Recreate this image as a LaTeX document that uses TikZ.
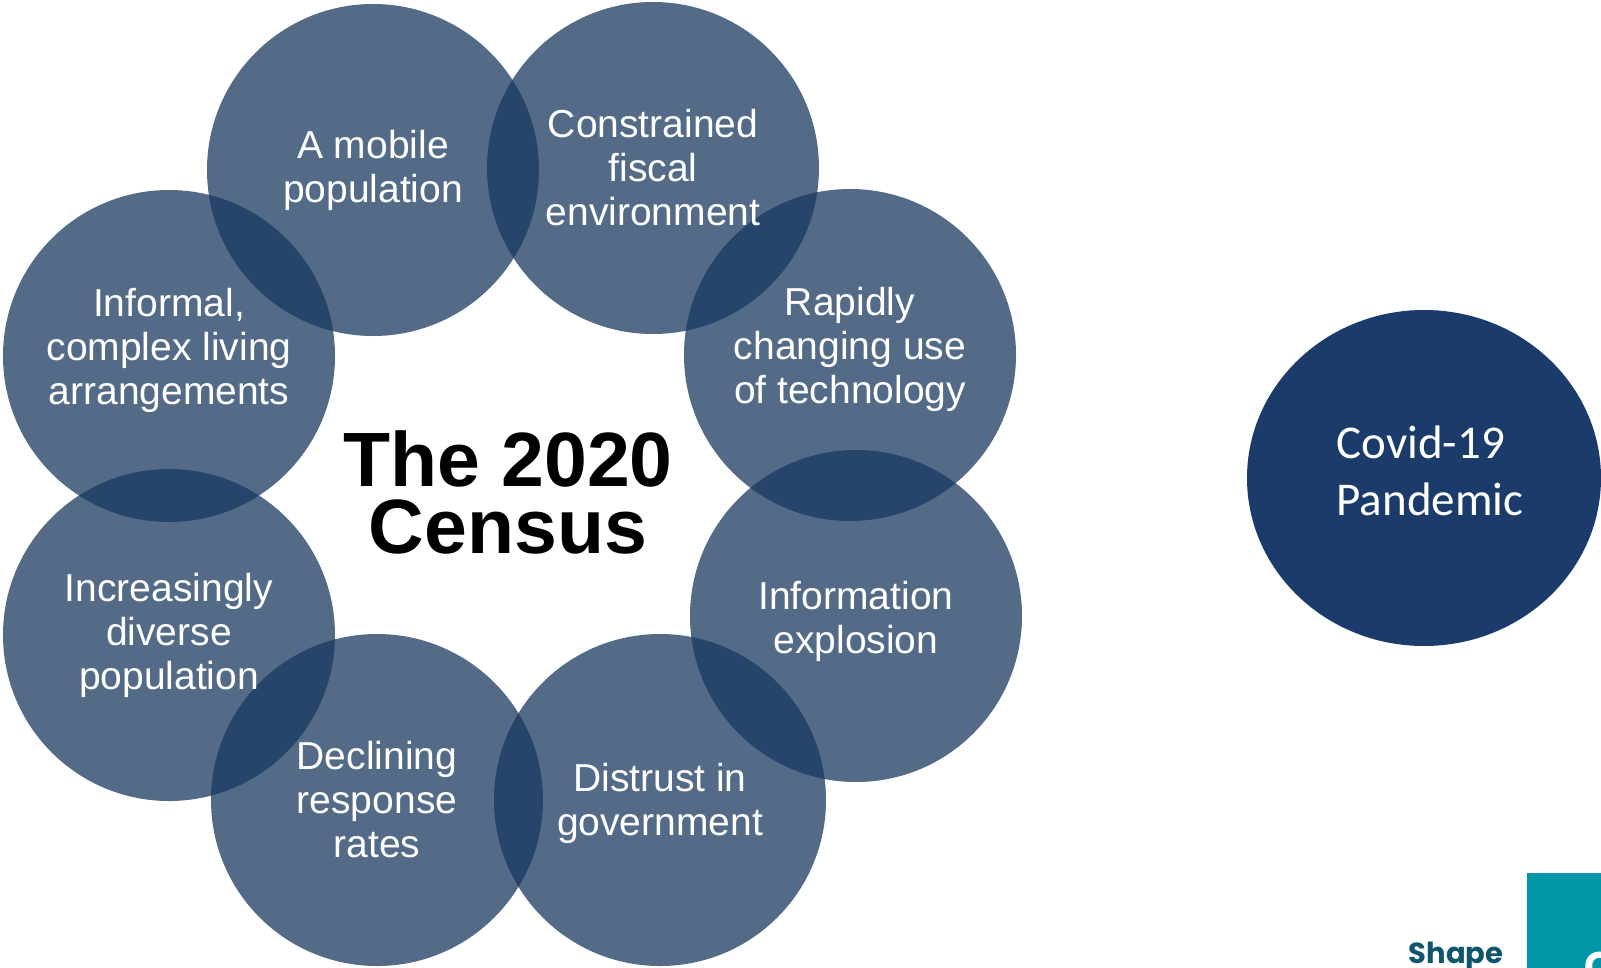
\documentclass[tikz,border=0pt]{standalone}
\usepackage{fontspec}
\setmainfont{Liberation Sans}
\newfontfamily\covidfont{Carlito}
\newfontfamily\logofont{Poppins}
\usetikzlibrary{shapes.geometric}
\definecolor{ringblue}{RGB}{24,55,95}
\definecolor{covidblue}{RGB}{27,60,107}
\definecolor{logoteal}{RGB}{0,150,167}
\definecolor{logodark}{RGB}{14,85,110}
\tikzset{ringstyle/.style={shape=circle,fill=ringblue,fill opacity=0.74,minimum size=332pt,inner sep=0pt}}
\tikzset{ringtext/.style={text=white,align=center,inner sep=0pt,font=\fontsize{39}{44}\selectfont}}

\begin{document}
\begin{tikzpicture}[x=1pt,y=-1pt]
            \useasboundingbox (0,0) rectangle (1601,967);
            \clip (0,0) rectangle (1601,967);
            % the ring of circles
            \foreach \px/\py/\name in {373/170/mobile, 653/168/fiscal, 850/355/tech, 856/616/info,
                660/800/distrust, 377/800/response, 169/635/diverse, 169/356/informal}
            {
                \node[ringstyle] (\name) at (\px,\py) {};
            }
            % their texts on top
            \foreach \name/\dy/\txt in {
                mobile/0/{A mobile\\population},
                fiscal/0/{Constrained\\fiscal\\environment},
                tech/6/{Rapidly\\changing use\\of technology},
                info/-5/{Information\\explosion},
                distrust/-3/{Distrust in\\government},
                response/0/{Declining\\response\\rates},
                diverse/0/{Increasingly\\diverse\\population},
                informal/6/{Informal,\\complex living\\arrangements}}
            {
                \node[ringtext] (\name-text) at ([yshift=\dy pt]\name.center) {\txt};
            }
            % title in the middle
            \node[font=\bfseries\fontsize{77}{67}\selectfont,align=center] (title) at (508,492) {The 2020\\Census};
            % the pandemic
            \node[ellipse,fill=covidblue,minimum width=354pt,minimum height=336pt] (covid) at (1424,478) {};
            \node[text=white,align=left,font=\covidfont\fontsize{47}{57}\selectfont] (covid-text) at ([xshift=6pt,yshift=7pt]covid.center) {Covid-19\\Pandemic};
            % logo corner
            \node[fill=logoteal,inner sep=0pt,minimum width=80pt,minimum height=100pt,anchor=north west] (logobox) at (1527,873) {};
            \node[text=white,font=\logofont\bfseries\fontsize{40}{40}\selectfont,anchor=base west] (logoletter) at (1581,980) {C};
            \node[text=logodark,font=\logofont\bfseries\fontsize{29}{29}\selectfont,anchor=base] (shape) at (1456,963) {Shape};
        \end{tikzpicture}
\end{document}
